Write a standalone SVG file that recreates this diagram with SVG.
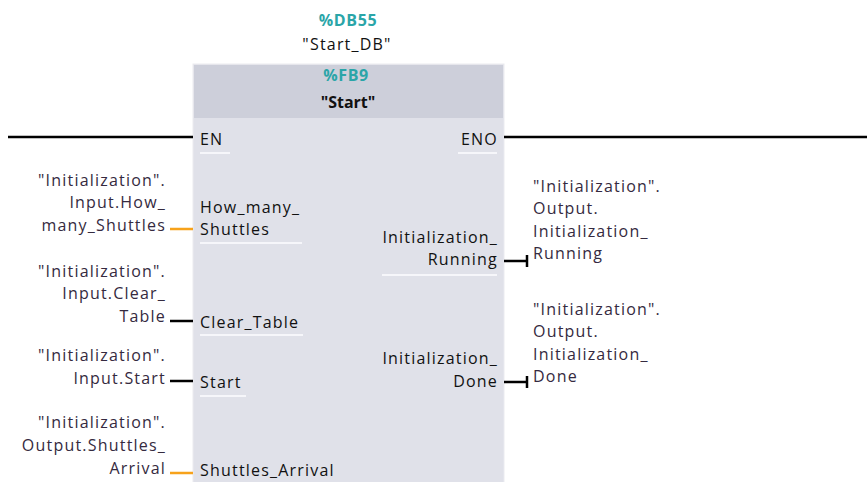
<svg xmlns="http://www.w3.org/2000/svg" width="867" height="482" viewBox="0 0 867 482">
<style>
text{font-family:"Open Sans","Noto Sans","DejaVu Sans",sans-serif;font-size:16px;letter-spacing:1.2px;}
.pin{fill:#111;}
.op{fill:#352a40;}
.r{text-anchor:end;}
.c{text-anchor:middle;}
.teal{fill:#2aa5a8;font-weight:bold;letter-spacing:0.6px;}
.ul{stroke:#f6f6fa;stroke-width:2;}
.wire{stroke:#000;stroke-width:2.5;fill:none;}
.wo{stroke:#f7a21b;stroke-width:2.5;fill:none;}
</style>
<rect width="867" height="482" fill="#fff"/>
<g id="fb9">
<rect x="193" y="64" width="311" height="430" fill="#e0e1e9" stroke="#ebebf0" stroke-width="1"/>
<rect x="194" y="65" width="309" height="53" fill="#cdcfda"/>
<text class="teal c" x="348" y="26">%DB55</text>
<text class="pin c" x="347" y="50">"Start_DB"</text>
<text class="teal c" x="346" y="81">%FB9</text>
<text class="pin c" x="348" y="108" font-weight="bold" style="letter-spacing:0">"Start"</text>
<text class="pin" x="200" y="145">EN</text>
<line class="ul" x1="200" y1="153" x2="230" y2="153"/>
<text class="pin r" x="498" y="145">ENO</text>
<line class="ul" x1="458" y1="153" x2="497" y2="153"/>
<text class="pin" x="200" y="213">How_many_</text>
<text class="pin" x="200" y="235">Shuttles</text>
<line class="ul" x1="200" y1="243" x2="302" y2="243"/>
<text class="pin" x="200" y="328">Clear_Table</text>
<line class="ul" x1="200" y1="335" x2="303" y2="335"/>
<text class="pin" x="200" y="388">Start</text>
<line class="ul" x1="200" y1="396" x2="246" y2="396"/>
<text class="pin" x="200" y="476">Shuttles_Arrival</text>
<text class="pin r" x="498" y="243">Initialization_</text>
<text class="pin r" x="498" y="265">Running</text>
<line class="ul" x1="382" y1="275" x2="497" y2="275"/>
<text class="pin r" x="498" y="364">Initialization_</text>
<text class="pin r" x="498" y="387">Done</text>
</g>
<g id="op-how-many">
<text class="op r" x="166" y="186">"Initialization".</text>
<text class="op r" x="166" y="208">Input.How_</text>
<text class="op r" x="166" y="231">many_Shuttles</text>
</g>
<g id="op-clear-table">
<text class="op r" x="166" y="277">"Initialization".</text>
<text class="op r" x="166" y="299">Input.Clear_</text>
<text class="op r" x="166" y="322">Table</text>
</g>
<g id="op-start">
<text class="op r" x="166" y="361">"Initialization".</text>
<text class="op r" x="166" y="384">Input.Start</text>
</g>
<g id="op-arrival">
<text class="op r" x="166" y="428">"Initialization".</text>
<text class="op r" x="166" y="451">Output.Shuttles_</text>
<text class="op r" x="166" y="474">Arrival</text>
</g>
<g id="op-running">
<text class="op" x="533" y="192">"Initialization".</text>
<text class="op" x="533" y="214">Output.</text>
<text class="op" x="533" y="237">Initialization_</text>
<text class="op" x="533" y="259">Running</text>
</g>
<g id="op-done">
<text class="op" x="533" y="315">"Initialization".</text>
<text class="op" x="533" y="337">Output.</text>
<text class="op" x="533" y="360">Initialization_</text>
<text class="op" x="533" y="382">Done</text>
</g>
<g id="connectors">
<line class="wire" x1="8" y1="137" x2="193" y2="137"/>
<line class="wire" x1="504" y1="137" x2="867" y2="137"/>
<line class="wo" x1="170" y1="229" x2="193" y2="229"/>
<line class="wire" x1="170" y1="321" x2="193" y2="321"/>
<line class="wire" x1="170" y1="381" x2="193" y2="381"/>
<line class="wo" x1="170" y1="473" x2="193" y2="473"/>
<line class="wire" x1="504" y1="261" x2="527" y2="261"/>
<line class="wire" x1="527" y1="255" x2="527" y2="267"/>
<line class="wire" x1="504" y1="382" x2="527" y2="382"/>
<line class="wire" x1="527" y1="376" x2="527" y2="388"/>
</g>
</svg>
